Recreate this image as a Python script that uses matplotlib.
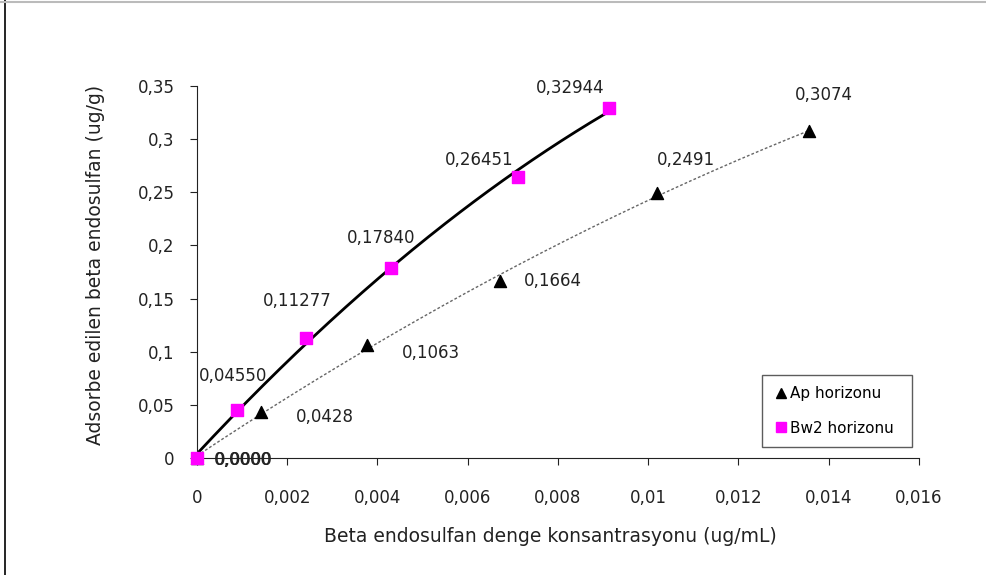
import matplotlib.pyplot as plt
import numpy as np
from matplotlib.lines import Line2D

plt.rcParams['font.family'] = ['DejaVu Sans']

# Ap horizonu
ap_x = [0.0, 0.00142, 0.00376, 0.00671, 0.0102, 0.01356]
ap_y = [0.0, 0.0428, 0.1063, 0.1664, 0.2491, 0.3074]
ap_lbl = ['0,0000', '0,0428', '0,1063', '0,1664', '0,2491', '0,3074']

# Bw2 horizonu
bw_x = [0.0, 0.00089, 0.00242, 0.00429, 0.00711, 0.00913]
bw_y = [0.0, 0.04550, 0.11277, 0.17840, 0.26451, 0.32944]
bw_lbl = ['0,0000', '0,04550', '0,11277', '0,17840', '0,26451', '0,32944']

xticks = [0, 0.002, 0.004, 0.006, 0.008, 0.01, 0.012, 0.014, 0.016]
xtick_lbl = ['0', '0,002', '0,004', '0,006', '0,008', '0,01', '0,012', '0,014', '0,016']
yticks = [0, 0.05, 0.1, 0.15, 0.2, 0.25, 0.3, 0.35]
ytick_lbl = ['0', '0,05', '0,1', '0,15', '0,2', '0,25', '0,3', '0,35']

# label offsets (points)
ap_off = [(33, -1.5), (46, -3), (46, -6), (38, 0), (21, 24), (11, 26)]
bw_off = [(34, -1.5), (-3, 24), (-6.5, 27), (-7, 22), (-28, 12), (-28, 14)]

fig = plt.figure(figsize=(9.86, 5.75), dpi=100)
ax = fig.add_axes([0.1998, 0.2035, 0.732, 0.647])

# trend lines (polynomial fits of the data)
cap = np.polyfit(ap_x, ap_y, 2)
xs = np.linspace(0, max(ap_x), 200)
ax.plot(xs, np.polyval(cap, xs), color='#666666', lw=1.0, ls=(0, (2, 1.5)), zorder=2)
cbw = np.polyfit(bw_x, bw_y, 2)
xs = np.linspace(0, max(bw_x), 200)
ax.plot(xs, np.polyval(cbw, xs), color='black', lw=2.0, zorder=2)

ax.scatter(ap_x, ap_y, marker='^', s=75, color='black', zorder=3, clip_on=False)
ax.scatter(bw_x, bw_y, marker='s', s=75, color='#ff00ff', zorder=4, clip_on=False)

for x, y, t, o in zip(ap_x, ap_y, ap_lbl, ap_off):
    ax.annotate(t, (x, y), xytext=o, textcoords='offset points', ha='center', va='center',
                fontsize=12, color='#222222', annotation_clip=False)
for x, y, t, o in zip(bw_x, bw_y, bw_lbl, bw_off):
    ax.annotate(t, (x, y), xytext=o, textcoords='offset points', ha='center', va='center',
                fontsize=12, color='#222222', annotation_clip=False)

ax.set_xlim(0, 0.016)
ax.set_ylim(0, 0.35)
ax.set_xticks(xticks)
ax.set_xticklabels(xtick_lbl)
ax.set_yticks(yticks)
ax.set_yticklabels(ytick_lbl)
ax.tick_params(direction='out', length=5, labelsize=12, colors='#222222')
ax.tick_params(axis='x', pad=17)
ax.tick_params(axis='y', pad=11)
for s in ['top', 'right']:
    ax.spines[s].set_visible(False)
for s in ['left', 'bottom']:
    ax.spines[s].set_color('#222222')
ax.set_xlabel('Beta endosulfan denge konsantrasyonu (ug/mL)', fontsize=13.5, color='#222222')
ax.set_ylabel('Adsorbe edilen beta endosulfan (ug/g)', fontsize=13.5, color='#222222')
ax.xaxis.set_label_coords(0.489, -0.185)
ax.yaxis.set_label_coords(-0.128, 0.519)

handles = [Line2D([], [], marker='^', ls='none', color='black', markersize=7),
           Line2D([], [], marker='s', ls='none', color='#ff00ff', markersize=7)]
leg = fig.legend(handles, ['Ap horizonu', 'Bw2 horizonu'], loc='upper left',
                 bbox_to_anchor=(762 / 986, 1 - 375 / 575, 150 / 986, 0), mode='expand',
                 fontsize=11, frameon=True, fancybox=False, handletextpad=0.1,
                 handlelength=1.0, labelspacing=1.25, borderpad=0.75, borderaxespad=0)
leg.get_frame().set_edgecolor('#333333')
leg.get_frame().set_linewidth(1.0)

# outer frame
fig.add_artist(Line2D([5 / 986, 5 / 986], [0, 1], color='black', lw=1.2))
fig.add_artist(Line2D([0, 1], [1 - 1.5 / 575, 1 - 1.5 / 575], color='#bbbbbb', lw=1.5))

fig.savefig('out.png', dpi=100)
